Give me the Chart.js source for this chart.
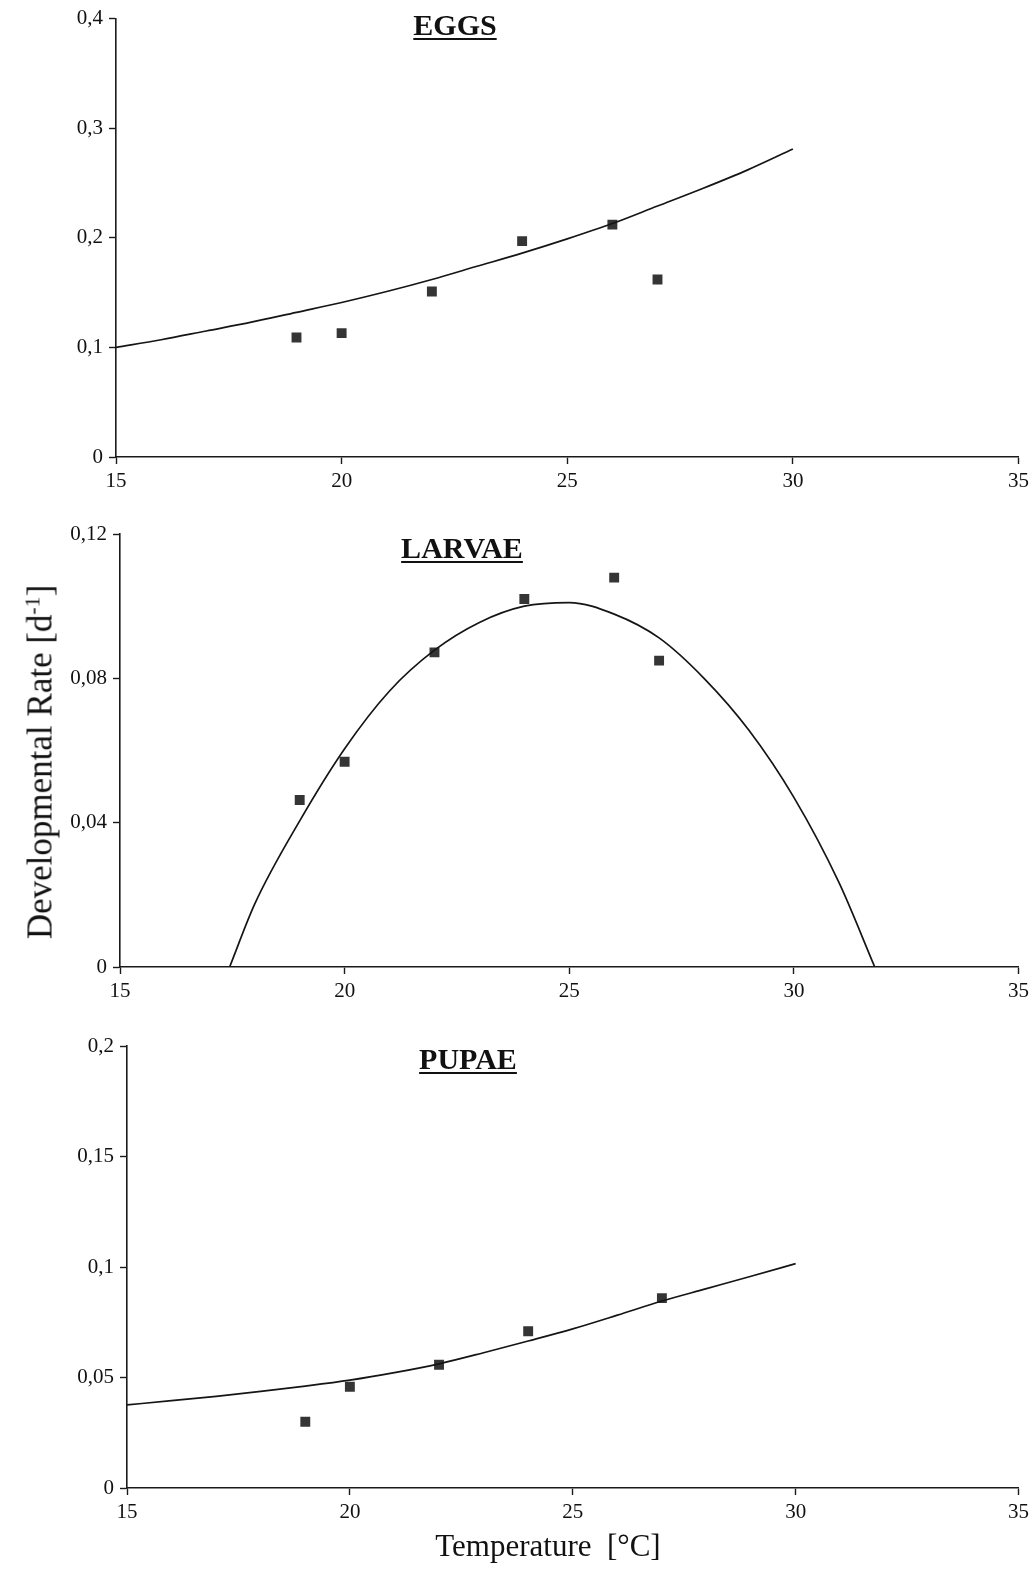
<!DOCTYPE html>
<html>
<head>
<meta charset="utf-8">
<script src="https://cdn.jsdelivr.net/npm/chart.js@4/dist/chart.umd.min.js"></script>
<style>
  html, body { margin: 0; padding: 0; background: #ffffff; }
  body { width: 1034px; height: 1573px; position: relative; overflow: hidden; font-family: 'Liberation Serif', 'Times New Roman', serif; color: #111; }
  .panel { position: absolute; left: 0; width: 1034px; }
  .ptitle { position: absolute; font-weight: bold; font-size: 30px; line-height: 1; text-decoration: underline; text-decoration-thickness: 2px; text-underline-offset: 3px; transform: translateX(-50%); white-space: nowrap; }
  .xtitle { position: absolute; font-size: 31px; line-height: 1; white-space: nowrap; transform: translateX(-50%); }
  .ytitle { position: absolute; font-size: 35px; line-height: 1; white-space: nowrap; transform: translate(-50%, -50%) rotate(-90deg); }
  .ytitle sup { font-size: 0.62em; vertical-align: 0.55em; }
</style>
</head>
<body>
<div class="panel" style="top:0px;height:500px;"><canvas id="c1" width="1034" height="500"></canvas></div>
<div class="panel" style="top:510px;height:500px;"><canvas id="c2" width="1034" height="500"></canvas></div>
<div class="panel" style="top:1020px;height:511px;"><canvas id="c3" width="1034" height="511"></canvas></div>

<div class="ptitle" style="left:455px;top:10px;">EGGS</div>
<div class="ptitle" style="left:462px;top:533px;">LARVAE</div>
<div class="ptitle" style="left:468px;top:1044px;">PUPAE</div>
<div class="xtitle" style="left:548px;top:1530px;">Temperature&nbsp; [°C]</div>
<div class="ytitle" style="left:40px;top:762px;">Developmental Rate [d<sup>-1</sup>]</div>

<script>
// ---- Data ----
const xTicks = [15, 20, 25, 30, 35];

// EGGS
const eggsObsTemp = [19, 20, 22, 24, 26, 27];
const eggsObsRate = [0.109, 0.113, 0.151, 0.197, 0.212, 0.162];
const eggsFitTemp = [15, 16, 17, 18, 19, 20, 21, 22, 23, 24, 25, 26, 27, 28, 29, 30];
const eggsFitRate = [0.100, 0.107, 0.115, 0.123, 0.132, 0.141, 0.151, 0.162, 0.174, 0.186, 0.199, 0.213, 0.229, 0.245, 0.262, 0.281];
const eggsYTicks = [0, 0.1, 0.2, 0.3, 0.4];

// LARVAE
const larvaeObsTemp = [19, 20, 22, 24, 26, 27];
const larvaeObsRate = [0.0463, 0.0569, 0.0872, 0.102, 0.1079, 0.0849];
const larvaeFitTemp = [17.44, 18, 19, 20, 21, 22, 23, 24, 25, 26, 27, 28, 29, 30, 31, 31.8];
const larvaeFitRate = [0, 0.0175, 0.0405, 0.0605, 0.0765, 0.0878, 0.0955, 0.1000, 0.1010, 0.0978, 0.0912, 0.0800, 0.0656, 0.0470, 0.0235, 0];
const larvaeYTicks = [0, 0.04, 0.08, 0.12];

// PUPAE
const pupaeObsTemp = [19, 20, 22, 24, 27];
const pupaeObsRate = [0.030, 0.0458, 0.0558, 0.0709, 0.0859];
const pupaeFitTemp = [15, 16, 17, 18, 19, 20, 21, 22, 23, 24, 25, 26, 27, 28, 29, 30];
const pupaeFitRate = [0.0376, 0.0395, 0.0415, 0.0437, 0.0461, 0.0488, 0.0522, 0.0562, 0.0612, 0.0665, 0.0720, 0.0782, 0.0846, 0.0902, 0.0958, 0.1015];
const pupaeYTicks = [0, 0.05, 0.1, 0.15, 0.2];

// ---- Helpers ----
Chart.defaults.font.family = "'Liberation Serif', 'Times New Roman', serif";
Chart.defaults.color = '#111';

function pts(xs, ys) { return xs.map((x, i) => ({ x: x, y: ys[i] })); }
function fmt(v) { return String(v).replace('.', ','); }

function makeChart(id, cfg) {
  const axisColor = '#1a1a1a';
  return new Chart(document.getElementById(id), {
    type: 'scatter',
    data: {
      datasets: [
        {
          label: 'fit',
          data: pts(cfg.fitT, cfg.fitR),
          showLine: true,
          borderColor: '#151515',
          borderWidth: 1.7,
          pointRadius: 0,
          tension: 0.4,
          cubicInterpolationMode: 'monotone',
          fill: false
        },
        {
          label: 'observed',
          data: pts(cfg.obsT, cfg.obsR),
          showLine: false,
          pointStyle: 'rect',
          pointRadius: 7,
          pointHoverRadius: 7,
          backgroundColor: '#353535',
          borderColor: '#2a2a2a',
          borderWidth: 0
        }
      ]
    },
    options: {
      responsive: false,
      animation: false,
      events: [],
      layout: { padding: { top: cfg.padTop, right: cfg.padRight, left: 0, bottom: 0 } },
      plugins: { legend: { display: false }, tooltip: { enabled: false }, title: { display: false } },
      scales: {
        x: {
          type: 'linear',
          min: 15, max: 35,
          afterBuildTicks: s => { s.ticks = xTicks.map(v => ({ value: v })); },
          afterFit: s => { s.height = cfg.xHeight; },
          grid: { drawOnChartArea: false, drawTicks: true, tickLength: 7, tickColor: axisColor, tickWidth: 1.4 },
          border: { display: true, color: axisColor, width: 1.6 },
          ticks: { font: { size: 21 }, color: '#111', padding: 5, maxRotation: 0, callback: v => fmt(v) }
        },
        y: {
          type: 'linear',
          min: 0, max: cfg.yMax,
          afterBuildTicks: s => { s.ticks = cfg.yTicks.map(v => ({ value: v })); },
          afterFit: s => { s.width = cfg.yWidth; },
          grid: { drawOnChartArea: false, drawTicks: true, tickLength: 7, tickColor: axisColor, tickWidth: 1.4 },
          border: { display: true, color: axisColor, width: 1.6 },
          ticks: { font: { size: 21 }, color: '#111', padding: 6, callback: v => fmt(v) }
        }
      }
    }
  });
}

makeChart('c1', { fitT: eggsFitTemp, fitR: eggsFitRate, obsT: eggsObsTemp, obsR: eggsObsRate,
  yMax: 0.4, yTicks: eggsYTicks, padTop: 16, padRight: 14, xHeight: 43, yWidth: 116 });
makeChart('c2', { fitT: larvaeFitTemp, fitR: larvaeFitRate, obsT: larvaeObsTemp, obsR: larvaeObsRate,
  yMax: 0.12, yTicks: larvaeYTicks, padTop: 24, padRight: 13, xHeight: 43, yWidth: 120 });
makeChart('c3', { fitT: pupaeFitTemp, fitR: pupaeFitRate, obsT: pupaeObsTemp, obsR: pupaeObsRate,
  yMax: 0.2, yTicks: pupaeYTicks, padTop: 26, padRight: 13, xHeight: 43, yWidth: 127 });
</script>
</body>
</html>
